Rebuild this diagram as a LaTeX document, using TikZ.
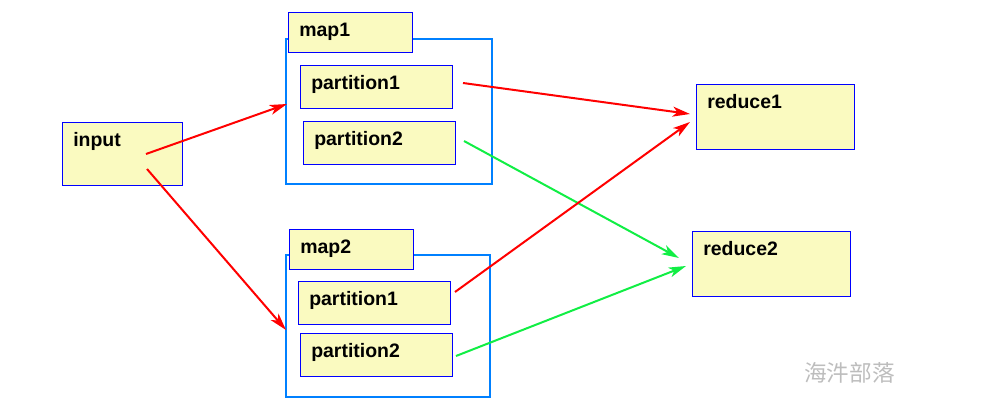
\documentclass[tikz,border=0pt]{standalone}
\usepackage{fontspec}
\setmainfont{Liberation Sans}
\newfontfamily\cjk{Noto Sans CJK SC}
\usetikzlibrary{arrows.meta,calc}
\definecolor{boxblue}{HTML}{0000FF}
\definecolor{boxfill}{HTML}{FAFAC0}
\definecolor{contblue}{HTML}{0080FF}
\definecolor{arred}{HTML}{FF0000}
\definecolor{argreen}{HTML}{11EE44}
\definecolor{wmgray}{HTML}{BDBDBD}
\tikzset{
  box/.style={draw=boxblue, fill=boxfill, line width=0.75pt, inner sep=0pt, anchor=north west, rectangle},
  txt/.style={label={[anchor=base west, inner sep=0pt, label distance=0pt, xshift=8.25pt, yshift=-18.4pt, font=\fontsize{14.6pt}{16pt}\selectfont\bfseries]north west:#1}},
  cont/.style={draw=contblue, line width=1.6pt, inner sep=0pt, anchor=north west, rectangle},
  arr/.style={line width=1.5pt, -{Stealth[length=13pt, width=7.5pt, inset=3.5pt]}},
}
\begin{document}
\begin{tikzpicture}[x=0.75pt, y=-0.75pt]
\useasboundingbox (0,0) rectangle (999,420);
% containers
\node[cont, minimum width=154.5pt, minimum height=108.75pt] (map1c) at (285,38) {};
\node[cont, minimum width=153pt, minimum height=106.5pt] (map2c) at (285,254) {};
% boxes
\node[box, minimum width=90pt, minimum height=47.25pt, txt=input] (input) at (62,122) {};
\node[box, minimum width=93pt, minimum height=30pt, txt=map1] (map1) at (288,12) {};
\node[box, minimum width=114pt, minimum height=32.25pt, txt=partition1] (m1p1) at (300,65) {};
\node[box, minimum width=114pt, minimum height=32.25pt, txt=partition2] (m1p2) at (303,121) {};
\node[box, minimum width=93pt, minimum height=30pt, txt=map2] (map2) at (289,229) {};
\node[box, minimum width=114pt, minimum height=32.25pt, txt=partition1] (m2p1) at (298,281) {};
\node[box, minimum width=114pt, minimum height=32.25pt, txt=partition2] (m2p2) at (300,333) {};
\node[box, minimum width=118.5pt, minimum height=48.75pt, txt=reduce1] (reduce1) at (696,84) {};
\node[box, minimum width=118.5pt, minimum height=48.75pt, txt=reduce2] (reduce2) at (692,231) {};
% connector ends
\coordinate (inA) at (146,154);
\coordinate (inB) at (147,169);
\coordinate (m1in) at (287,104);
\coordinate (m2in) at (286,330);
\coordinate (m1p1o) at (463,83);
\coordinate (m1p2o) at (464,141);
\coordinate (m2p1o) at (455,292);
\coordinate (m2p2o) at (456,356);
\coordinate (r1a) at (690,114);
\coordinate (r1b) at (690,122);
\coordinate (r2a) at (679,258);
\coordinate (r2b) at (686,266);
% connectors
\draw[arr, arred] (inA) -- (m1in);
\draw[arr, arred] (inB) -- (m2in);
\draw[arr, arred] (m1p1o) -- (r1a);
\draw[arr, argreen] (m1p2o) -- (r2a);
\draw[arr, arred] (m2p1o) -- (r1b);
\draw[arr, argreen] (m2p2o) -- (r2b);
% watermark
\node[anchor=west, inner sep=0pt, text=wmgray, font=\cjk\fontsize{17pt}{19pt}\selectfont] (wm) at (804,373) {海汼部落};
\end{tikzpicture}
\end{document}
